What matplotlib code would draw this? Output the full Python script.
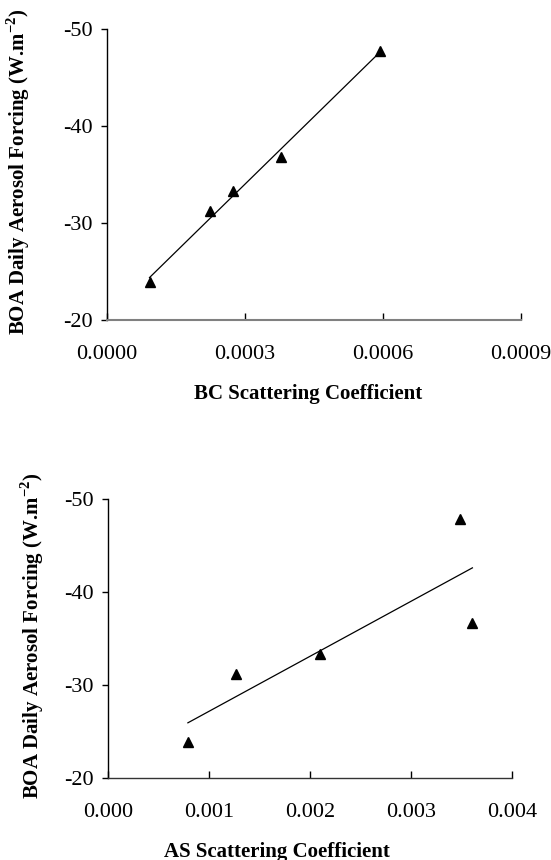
import numpy as np
import matplotlib.pyplot as plt

plt.rcParams['font.family'] = 'Liberation Serif'
plt.rcParams['mathtext.fontset'] = 'custom'
plt.rcParams['mathtext.rm'] = 'Liberation Serif:bold'
plt.rcParams['mathtext.bf'] = 'Liberation Serif:bold'
plt.rcParams['axes.unicode_minus'] = False

# daily BOA aerosol forcing (W m-2), same five days in both panels
forcing_bc = [-23.9, -31.2, -33.3, -36.8, -47.7]
forcing_as = [-23.9, -31.2, -33.35, -36.7, -47.8]

bc_scat = [0.0000924, 0.0002246, 0.0002743, 0.0003776, 0.000593]
as_scat = [0.000791, 0.001271, 0.002102, 0.003608, 0.003486]

bc_ticks = [0.0, 0.0003, 0.0006, 0.0009]
as_ticks = [0.0, 0.001, 0.002, 0.003, 0.004]
y_ticks = [-50, -40, -30, -20]

ylab = r'BOA Daily Aerosol Forcing (W.m$^{\mathbf{-2}}$)'

fig = plt.figure(figsize=(5.51, 8.6), dpi=100)
ax1 = fig.add_axes([107/551, 1-320/860, 414/551, 291/860])
ax2 = fig.add_axes([108/551, 1-778.3/860, 404/551, 279.3/860])


def panel(ax, x, y, xticks, fmt, xlabel, xlab_pos, ylab_x, axis_col, axis_lw):
    x = np.array(x)
    y = np.array(y)
    k, b = np.polyfit(x, y, 1)   # linear trendline
    xx = np.array([x.min(), x.max()])
    ax.plot(xx, k*xx + b, color='black', lw=0.9, zorder=2)
    ax.plot(x, y, '^', color='black', ms=7, zorder=3)
    ax.set_xlim(xticks[0], xticks[-1])
    ax.set_ylim(-20, -50)
    ax.set_xticks(xticks)
    ax.set_xticklabels([fmt % v for v in xticks])
    ax.set_yticks(y_ticks)
    ax.spines['top'].set_visible(False)
    ax.spines['right'].set_visible(False)
    ax.spines['bottom'].set_color(axis_col)
    ax.spines['bottom'].set_linewidth(axis_lw)
    ax.spines['left'].set_linewidth(1.0)
    ax.tick_params(axis='x', direction='in', length=5, width=1, pad=18, labelsize=16)
    ax.tick_params(axis='y', direction='out', length=4.5, width=1, pad=6, labelsize=16)
    ax.set_xlabel(xlabel, fontsize=15, fontweight='bold')
    ax.xaxis.set_label_coords(xlab_pos[0], xlab_pos[1])
    ax.set_ylabel(ylab, fontsize=15, fontweight='bold')
    ax.yaxis.set_label_coords(ylab_x, 0.51)


panel(ax1, bc_scat, forcing_bc, bc_ticks, '%.4f', 'BC Scattering Coefficient',
      (0.486, -0.22), -0.18, '#808080', 1.5)
panel(ax2, as_scat, forcing_as, as_ticks, '%.3f', 'AS Scattering Coefficient',
      (0.417, -0.228), -0.153, '#333333', 1.0)

fig.savefig('out.png', dpi=100)
